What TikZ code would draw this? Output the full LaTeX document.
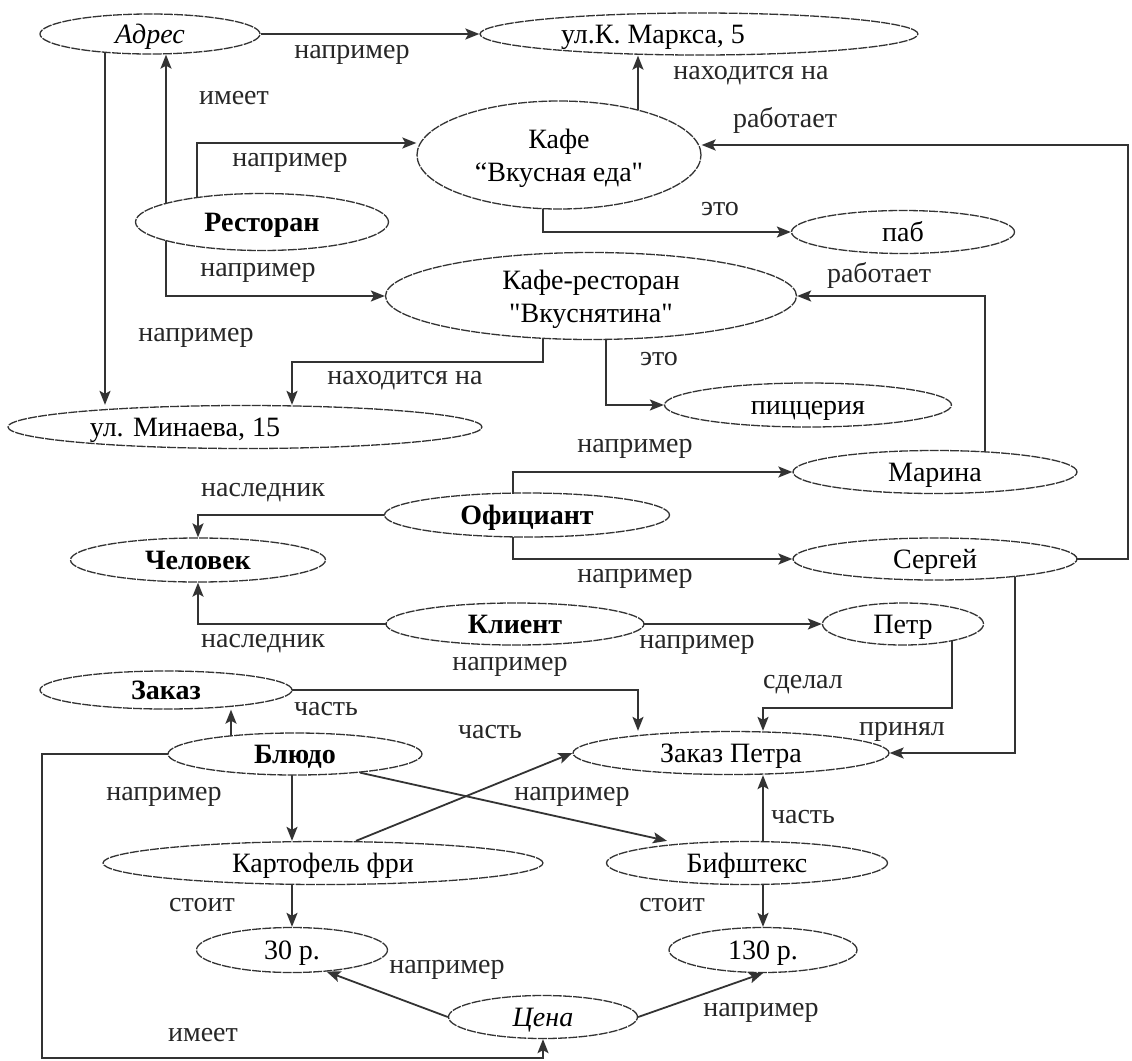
\documentclass[tikz,border=0pt]{standalone}
\usepackage{fontspec}
\setmainfont{Liberation Serif}[Ligatures=TeXOff]
\usetikzlibrary{shapes.geometric,arrows.meta,calc}
\pgfdeclarelayer{bg}
\pgfsetlayers{bg,main}

% text centred on the node, with an optional horizontal offset; takes no room,
% so the ellipse size comes only from minimum width/height
\newcommand\ctext[2][0pt]{\makebox[0pt]{\hspace*{#1}\hspace*{#1}\raisebox{-.33em}[0pt][0pt]{#2}}}
\newcommand\twolines[2]{\begin{tabular}{@{}c@{}}#1\\#2\end{tabular}}

\begin{document}
\begin{tikzpicture}[x=1pt,y=-1pt,
  font=\fontsize{28}{33}\selectfont,
  ent/.style 2 args={ellipse, draw=black!80, line width=1.3pt,
    dash pattern=on 9pt off 1.2pt, fill=white, inner sep=0pt,
    minimum width=#1, minimum height=#2},
  conn/.style={line width=1.8pt, draw=black!80},
  arr/.style={conn, -{Stealth[length=14pt,width=11pt,inset=3pt]}},
  rel/.style={inner sep=0pt, text=black!85},
]
\useasboundingbox (0,0) rectangle (1132,1060);

% concepts
\node[ent={220pt}{40pt}]  (adres)  at (150,34)  {\ctext{\itshape Адрес}};
\node[ent={438pt}{42pt}]  (marx)   at (699,34)  {\ctext[-46pt]{ул.К. Маркса, 5}};
\node[ent={284pt}{108pt}] (kafe)   at (559,155) {\ctext{\twolines{Кафе}{“Вкусная еда"}}};
\node[ent={253pt}{57pt}]  (rest)   at (262,222) {\ctext{\bfseries Ресторан}};
\node[ent={223pt}{43pt}]  (pab)    at (903,232) {\ctext{паб}};
\node[ent={411pt}{87pt}]  (kr)     at (591,296) {\ctext{\twolines{Кафе-ресторан}{"Вкуснятина"}}};
\node[ent={474pt}{43pt}]  (minaev) at (245,427) {\ctext[-60pt]{ул. Минаева, 15}};
\node[ent={287pt}{44pt}]  (pizz)   at (808,405) {\ctext{пиццерия}};
\node[ent={284pt}{43pt}]  (marina) at (935,472) {\ctext{Марина}};
\node[ent={285pt}{44pt}]  (ofic)   at (527,515) {\ctext{\bfseries Официант}};
\node[ent={255pt}{44pt}]  (chel)   at (198,560) {\ctext{\bfseries Человек}};
\node[ent={284pt}{42pt}]  (serg)   at (935,559) {\ctext{Сергей}};
\node[ent={258pt}{42pt}]  (klient) at (515,624) {\ctext{\bfseries Клиент}};
\node[ent={161pt}{42pt}]  (petr)   at (903,624) {\ctext{Петр}};
\node[ent={252pt}{38pt}]  (zakaz)  at (166,690) {\ctext{\bfseries Заказ}};
\node[ent={254pt}{42pt}]  (bludo)  at (295,754) {\ctext{\bfseries Блюдо}};
\node[ent={316pt}{43pt}]  (zp)     at (731,753) {\ctext{Заказ Петра}};
\node[ent={440pt}{43pt}]  (kart)   at (323,863) {\ctext{Картофель фри}};
\node[ent={281pt}{43pt}]  (bif)    at (747,863) {\ctext{Бифштекс}};
\node[ent={191pt}{45pt}]  (r30)    at (292,950) {\ctext{30 р.}};
\node[ent={188pt}{45pt}]  (r130)   at (763,950) {\ctext{130 р.}};
\node[ent={189pt}{43pt}]  (cena)   at (543,1017) {\ctext{\itshape Цена}};

% relation labels
\node[rel] (t1)  at (352,55)   {например};
\node[rel] (t2)  at (234,98)   {имеет};
\node[rel] (t3)  at (290,163)  {например};
\node[rel] (t4)  at (258,273)  {например};
\node[rel] (t5)  at (196,338)  {например};
\node[rel] (t6)  at (751,76)   {находится на};
\node[rel] (t7)  at (785,120)  {работает};
\node[rel] (t8)  at (720,209)  {это};
\node[rel] (t9)  at (879,275)  {работает};
\node[rel] (t10) at (405,381)  {находится на};
\node[rel] (t11) at (659,359)  {это};
\node[rel] (t12) at (635,449)  {например};
\node[rel] (t13) at (263,493)  {наследник};
\node[rel] (t14) at (635,579)  {например};
\node[rel] (t15) at (263,644)  {наследник};
\node[rel] (t16) at (510,667)  {например};
\node[rel] (t17) at (697,645)  {например};
\node[rel] (t18) at (803,685)  {сделал};
\node[rel] (t19) at (326,709)  {часть};
\node[rel] (t20) at (490,732)  {часть};
\node[rel] (t21) at (902,732)  {принял};
\node[rel] (t22) at (164,797)  {например};
\node[rel] (t23) at (572,797)  {например};
\node[rel] (t24) at (803,817)  {часть};
\node[rel] (t25) at (202,905)  {стоит};
\node[rel] (t26) at (672,905)  {стоит};
\node[rel] (t27) at (447,970)  {например};
\node[rel] (t28) at (203,1035) {имеет};
\node[rel] (t29) at (761,1013) {например};

% connectors, kept under the white ellipses
\begin{pgfonlayer}{bg}
\fill[white] (0,0) rectangle (1132,1060);
\draw[arr] (adres.east) -- (adres.east -| marx.west);
\draw[arr] (105,0 |- adres.center) -- (105,0 |- minaev.north);
\draw[arr] (166,0 |- rest.center) -- (166,0 |- adres.south);
\draw[arr] (197,0 |- rest.center) |- (kafe.west |- 0,143);
\draw[arr] (166,0 |- rest.center) |- (kr.west);
\draw[arr] (638,0 |- kafe.center) -- (638,0 |- marx.south);
\draw[arr] (serg.center) -- (1128,0 |- serg.center) -- (1128,145) -- (kafe.east |- 0,145);
\draw[arr] (543,0 |- kafe.center) |- (pab.west);
\draw[arr] (985,0 |- marina.center) |- (kr.east);
\draw[arr] (543,0 |- kr.center) -- (543,362) -| (292,0 |- minaev.north);
\draw[arr] (606,0 |- kr.center) |- (pizz.west);
\draw[arr] (513,0 |- ofic.center) |- (marina.west);
\draw[arr] (513,0 |- ofic.center) |- (serg.west);
\draw[arr] (ofic.center) -| (198,0 |- chel.north);
\draw[arr] (klient.center) -| (198,0 |- chel.south);
\draw[arr] (klient.center) -- (petr.west);
\draw[arr] (zakaz.center) -| (638,0 |- zp.north);
\draw[arr] (952,0 |- petr.center) -- (952,708) -| (763,0 |- zp.north);
\draw[arr] (1015,0 |- serg.center) |- (zp.east);
\draw[arr] (231,0 |- bludo.center) -- (231,0 |- zakaz.south);
\draw[arr] (292,0 |- bludo.center) -- (292,0 |- kart.north);
\draw[arr] (bludo.-16.4) -- (667,0 |- bif.north);
\draw[arr] (356,0 |- kart.north) -- (zp.west);
\draw[arr] (292,0 |- kart.center) -- (292,0 |- r30.north);
\draw[arr] (763,0 |- bif.center) -- (763,0 |- zp.south);
\draw[arr] (763,0 |- bif.center) -- (763,0 |- r130.north);
\draw[arr] (cena.west) -- (r30.-32);
\draw[arr] (cena.east) -- (r130.south);
\draw[arr] (bludo.center) -| (42,1058) -| (cena.south);
\end{pgfonlayer}
\end{tikzpicture}
\end{document}
